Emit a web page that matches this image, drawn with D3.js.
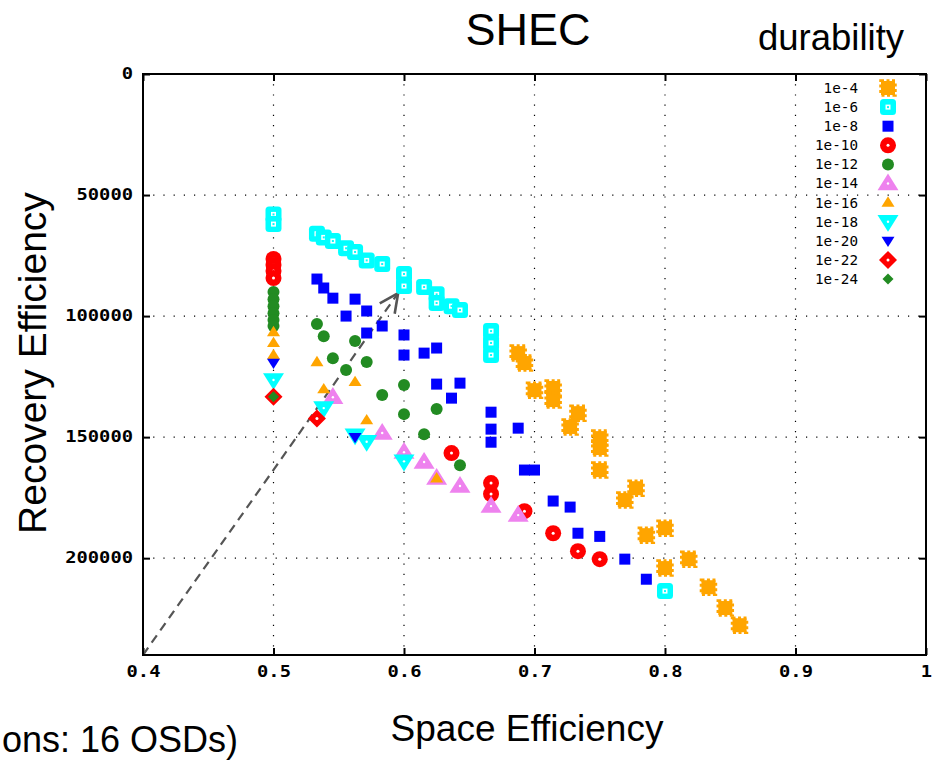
<!DOCTYPE html>
<html>
<head>
<meta charset="utf-8">
<script src="https://cdn.jsdelivr.net/npm/d3@7"></script>
<style>
  body { margin: 0; background: #fff; }
  svg { display: block; }
</style>
</head>
<body>
<div id="chart"></div>
<script>
// durability classes, in legend order
var durability = ["1e-4", "1e-6", "1e-8", "1e-10", "1e-12", "1e-14", "1e-16", "1e-18", "1e-20", "1e-22", "1e-24"];

// [space efficiency, recovery efficiency]
var d1e4 = [[0.6875,115300],[0.6923,119400],[0.7,130600],[0.7143,129700],[0.7143,134700],[0.7333,140100],[0.7273,145800],
            [0.75,150400],[0.75,154500],[0.75,163600],[0.7778,171100],[0.7692,176000],[0.8,187600],[0.7857,190500],
            [0.8182,200400],[0.8,204100],[0.8333,212000],[0.8462,220600],[0.8571,227700]];
var d1e6 = [[0.5,58000],[0.5,62000],[0.5333,66000],[0.5385,67500],[0.5455,69000],[0.5556,72000],[0.5625,73500],
            [0.5714,77000],[0.5833,78500],[0.6,82600],[0.6,87600],[0.6154,88000],[0.625,91000],[0.625,94600],
            [0.6364,95900],[0.6429,97500],[0.6667,106200],[0.6667,111100],[0.6667,116100],[0.8,213600]];
var d1e8 = [[0.5333,84700],[0.5385,88400],[0.5455,92600],[0.5625,93000],[0.5556,100000],[0.5714,97900],[0.5833,104100],
            [0.5714,107000],[0.6,107800],[0.6,116100],[0.6154,115300],[0.625,113200],[0.625,128100],[0.6429,127700],
            [0.6364,133900],[0.6667,139700],[0.6667,146700],[0.6667,152100],[0.6875,146300],[0.6923,163600],[0.7,163600],
            [0.7143,176400],[0.7273,178900],[0.7333,189700],[0.75,191000],[0.7692,200400],[0.7857,208700]];
var d1e10 = [[0.5,76400],[0.5,78900],[0.5,81400],[0.5,84300],[0.6364,156600],[0.6667,169000],[0.6667,173500],
             [0.6923,180600],[0.7143,189700],[0.7333,197100],[0.75,200400]];
var d1e12 = [[0.5,90100],[0.5,93000],[0.5,95900],[0.5,98800],[0.5,101600],[0.5,104100],[0.5333,103300],[0.5385,108300],
             [0.5625,110300],[0.5455,117400],[0.5714,119000],[0.5556,122300],[0.5833,132600],[0.6,128500],[0.6,140500],
             [0.625,138400],[0.6154,148800],[0.6429,161600]];
var d1e14 = [[0.5455,133500],[0.5833,148300],[0.6,156200],[0.6154,160300],[0.625,166900],[0.6429,170200],[0.6667,178500],[0.6875,182200]];
var d1e16 = [[0.5,106600],[0.5,111100],[0.5,116100],[0.5333,119000],[0.5625,127200],[0.5385,130200],[0.5714,143000],[0.625,167000]];
var d1e18 = [[0.5,126400],[0.5385,138000],[0.5625,149200],[0.5714,151900],[0.6,160000]];
var d1e20 = [[0.5,119300],[0.5625,150000]];
var d1e22 = [[0.5,133300],[0.5333,142300]];
var d1e24 = [[0.5,133300]];

var seriesData = [d1e4, d1e6, d1e8, d1e10, d1e12, d1e14, d1e16, d1e18, d1e20, d1e22, d1e24];

// axis ticks
var xTicks = [0.4, 0.5, 0.6, 0.7, 0.8, 0.9, 1];
var xTickLabels = ["0.4", "0.5", "0.6", "0.7", "0.8", "0.9", "1"];
var yTicks = [0, 50000, 100000, 150000, 200000];
var yTickLabels = ["0", "50000", "100000", "150000", "200000"];

// dashed arrow (data units)
var arrowFrom = [0.4, 240000];
var arrowTo = [0.5955, 90500];

// marker style per series (same order as durability)
var markerStyle = [
  {shape: "blob",  color: "#ffa500", size: 14},
  {shape: "sqo",   color: "#00ffff", size: 16},
  {shape: "sq",    color: "#0000ff", size: 11},
  {shape: "circo", color: "#ff0000", size: 16},
  {shape: "circ",  color: "#228b22", size: 12},
  {shape: "tri",   color: "#ee82ee", size: 21},
  {shape: "tri",   color: "#ffa500", size: 13},
  {shape: "itri",  color: "#00ffff", size: 21},
  {shape: "itri",  color: "#0000ff", size: 13},
  {shape: "diao",  color: "#ff0000", size: 18},
  {shape: "dia",   color: "#228b22", size: 11}
];

var width = 935, height = 763;
var svg = d3.select("#chart").append("svg").attr("width", width).attr("height", height);

var xScale = d3.scaleLinear().domain([0.4, 1]).range([143, 926]);
var yScale = d3.scaleLinear().domain([0, 240000]).range([74, 655]);

var plotL = xScale(0.4), plotR = xScale(1), plotT = yScale(0), plotB = yScale(240000);

// dotted grid
svg.append("g").selectAll("line")
  .data(xTicks.slice(1, -1)).enter().append("line")
  .attr("x1", function(d) { return xScale(d); }).attr("x2", function(d) { return xScale(d); })
  .attr("y1", plotT).attr("y2", plotB)
  .attr("stroke", "#000").attr("stroke-width", 1.2).attr("stroke-dasharray", "1.2,9");
svg.append("g").selectAll("line")
  .data(yTicks.slice(1)).enter().append("line")
  .attr("x1", plotL).attr("x2", plotR)
  .attr("y1", function(d) { return yScale(d); }).attr("y2", function(d) { return yScale(d); })
  .attr("stroke", "#000").attr("stroke-width", 1.2).attr("stroke-dasharray", "1.2,9");

// axes with inward ticks (mirrored on top/right)
var tickFont = "'DejaVu Sans Mono', monospace";
function styleAxis(g) {
  g.select(".domain").remove();
  g.selectAll(".tick line").attr("stroke", "#000").attr("stroke-width", 2);
  g.selectAll(".tick text").attr("font-family", tickFont).attr("font-weight", "bold")
    .attr("font-size", 15).attr("fill", "#000");
}
var xAxis = svg.append("g").attr("transform", "translate(0," + plotB + ")")
  .call(d3.axisBottom(xScale).tickValues(xTicks).tickSize(-7).tickPadding(11)
    .tickFormat(function(d, i) { return xTickLabels[i]; }));
styleAxis(xAxis);
xAxis.selectAll(".tick text").attr("dy", "0.71em")
  .attr("textLength", function(d, i) { return xTickLabels[i].length * 11.3; })
  .attr("lengthAdjust", "spacingAndGlyphs");
var xAxisTop = svg.append("g").attr("transform", "translate(0," + plotT + ")")
  .call(d3.axisTop(xScale).tickValues(xTicks).tickSize(-7).tickFormat(""));
styleAxis(xAxisTop);

var yAxis = svg.append("g").attr("transform", "translate(" + plotL + ",0)")
  .call(d3.axisLeft(yScale).tickValues(yTicks).tickSize(-7).tickPadding(10)
    .tickFormat(function(d, i) { return yTickLabels[i]; }));
styleAxis(yAxis);
yAxis.selectAll(".tick text")
  .attr("textLength", function(d, i) { return yTickLabels[i].length * 11.3; })
  .attr("lengthAdjust", "spacingAndGlyphs");
var yAxisRight = svg.append("g").attr("transform", "translate(" + plotR + ",0)")
  .call(d3.axisRight(yScale).tickValues(yTicks).tickSize(-7).tickFormat(""));
styleAxis(yAxisRight);

// dashed arrow
var ax0 = xScale(arrowFrom[0]), ay0 = yScale(arrowFrom[1]);
var ax1 = xScale(arrowTo[0]), ay1 = yScale(arrowTo[1]);
svg.append("line").attr("x1", ax0).attr("y1", ay0).attr("x2", ax1).attr("y2", ay1)
  .attr("stroke", "#555").attr("stroke-width", 2.2).attr("stroke-dasharray", "9,6");
var ang = Math.atan2(ay1 - ay0, ax1 - ax0);
[-0.45, 0.45].forEach(function(da) {
  svg.append("line").attr("x1", ax1).attr("y1", ay1)
    .attr("x2", ax1 - 21 * Math.cos(ang + da)).attr("y2", ay1 - 21 * Math.sin(ang + da))
    .attr("stroke", "#555").attr("stroke-width", 2.6);
});

// draws one marker into a group g at (0,0)
function drawMarker(g, st) {
  var s = st.size, h = s / 2;
  if (st.shape === "blob") {
    g.append("rect").attr("x", -h).attr("y", -h).attr("width", s).attr("height", s)
      .attr("fill", st.color).attr("stroke", st.color).attr("stroke-width", 3.5).attr("stroke-dasharray", "3,2.5");
  } else if (st.shape === "sqo") {
    g.append("rect").attr("x", -h).attr("y", -h).attr("width", s).attr("height", s).attr("rx", 3.5)
      .attr("fill", st.color);
    g.append("rect").attr("x", -2.5).attr("y", -2.5).attr("width", 5).attr("height", 5).attr("fill", "#fff");
    g.append("rect").attr("x", -1).attr("y", -1).attr("width", 2).attr("height", 2).attr("fill", st.color);
  } else if (st.shape === "sq") {
    g.append("rect").attr("x", -h).attr("y", -h).attr("width", s).attr("height", s).attr("fill", st.color);
  } else if (st.shape === "circo" || st.shape === "circ") {
    g.append("circle").attr("r", h).attr("fill", st.color);
    if (st.shape === "circo") g.append("circle").attr("r", 1.5).attr("fill", "#fff");
  } else if (st.shape === "tri" || st.shape === "itri") {
    var th = s * 0.8, sgn = st.shape === "tri" ? 1 : -1;
    g.append("path")
      .attr("d", "M0," + (-sgn * th * 0.6) + "L" + h + "," + (sgn * th * 0.4) + "L" + (-h) + "," + (sgn * th * 0.4) + "Z")
      .attr("fill", st.color);
    if (s > 15) g.append("circle").attr("r", 1.2).attr("fill", "#fff");
  } else if (st.shape === "diao" || st.shape === "dia") {
    g.append("path").attr("d", "M0," + (-h) + "L" + h + ",0L0," + h + "L" + (-h) + ",0Z").attr("fill", st.color);
    if (st.shape === "diao") g.append("circle").attr("r", 1.5).attr("fill", "#fff");
  }
}

// points, series drawn in order so later ones are on top
seriesData.forEach(function(pts, i) {
  var g = svg.append("g").attr("class", "series");
  pts.forEach(function(p) {
    var m = g.append("g").attr("transform", "translate(" + xScale(p[0]) + "," + yScale(p[1]) + ")");
    drawMarker(m, markerStyle[i]);
  });
});

// frame
svg.append("rect").attr("x", plotL).attr("y", plotT).attr("width", plotR - plotL).attr("height", plotB - plotT)
  .attr("fill", "none").attr("stroke", "#000").attr("stroke-width", 2);

// legend
var legend = svg.append("g");
durability.forEach(function(label, i) {
  var y = 88 + i * 19.1;
  legend.append("text").attr("x", 858).attr("y", y).attr("dy", "0.35em").attr("text-anchor", "end")
    .attr("font-family", tickFont).attr("font-size", 14)
    .attr("textLength", label.length * 8.6).attr("lengthAdjust", "spacingAndGlyphs")
    .text(label);
  var m = legend.append("g").attr("transform", "translate(888," + y + ")");
  drawMarker(m, markerStyle[i]);
});

// titles
var textFont = "'Liberation Sans', Arial, sans-serif";
svg.append("text").attr("x", 528).attr("y", 45).attr("text-anchor", "middle")
  .attr("font-family", textFont).attr("font-size", 45).text("SHEC");
svg.append("text").attr("x", 831).attr("y", 50).attr("text-anchor", "middle")
  .attr("font-family", textFont).attr("font-size", 36.5).text("durability");
svg.append("text").attr("x", 527).attr("y", 741).attr("text-anchor", "middle")
  .attr("font-family", textFont).attr("font-size", 37).text("Space Efficiency");
svg.append("text").attr("transform", "translate(46,363) rotate(-90)").attr("text-anchor", "middle")
  .attr("font-family", textFont).attr("font-size", 39).text("Recovery Efficiency");
// the reference shows only the tail of this note at the left edge
svg.append("text").attr("x", 2).attr("y", 752)
  .attr("font-family", textFont).attr("font-size", 36).text("ons: 16 OSDs)");
</script>
</body>
</html>
